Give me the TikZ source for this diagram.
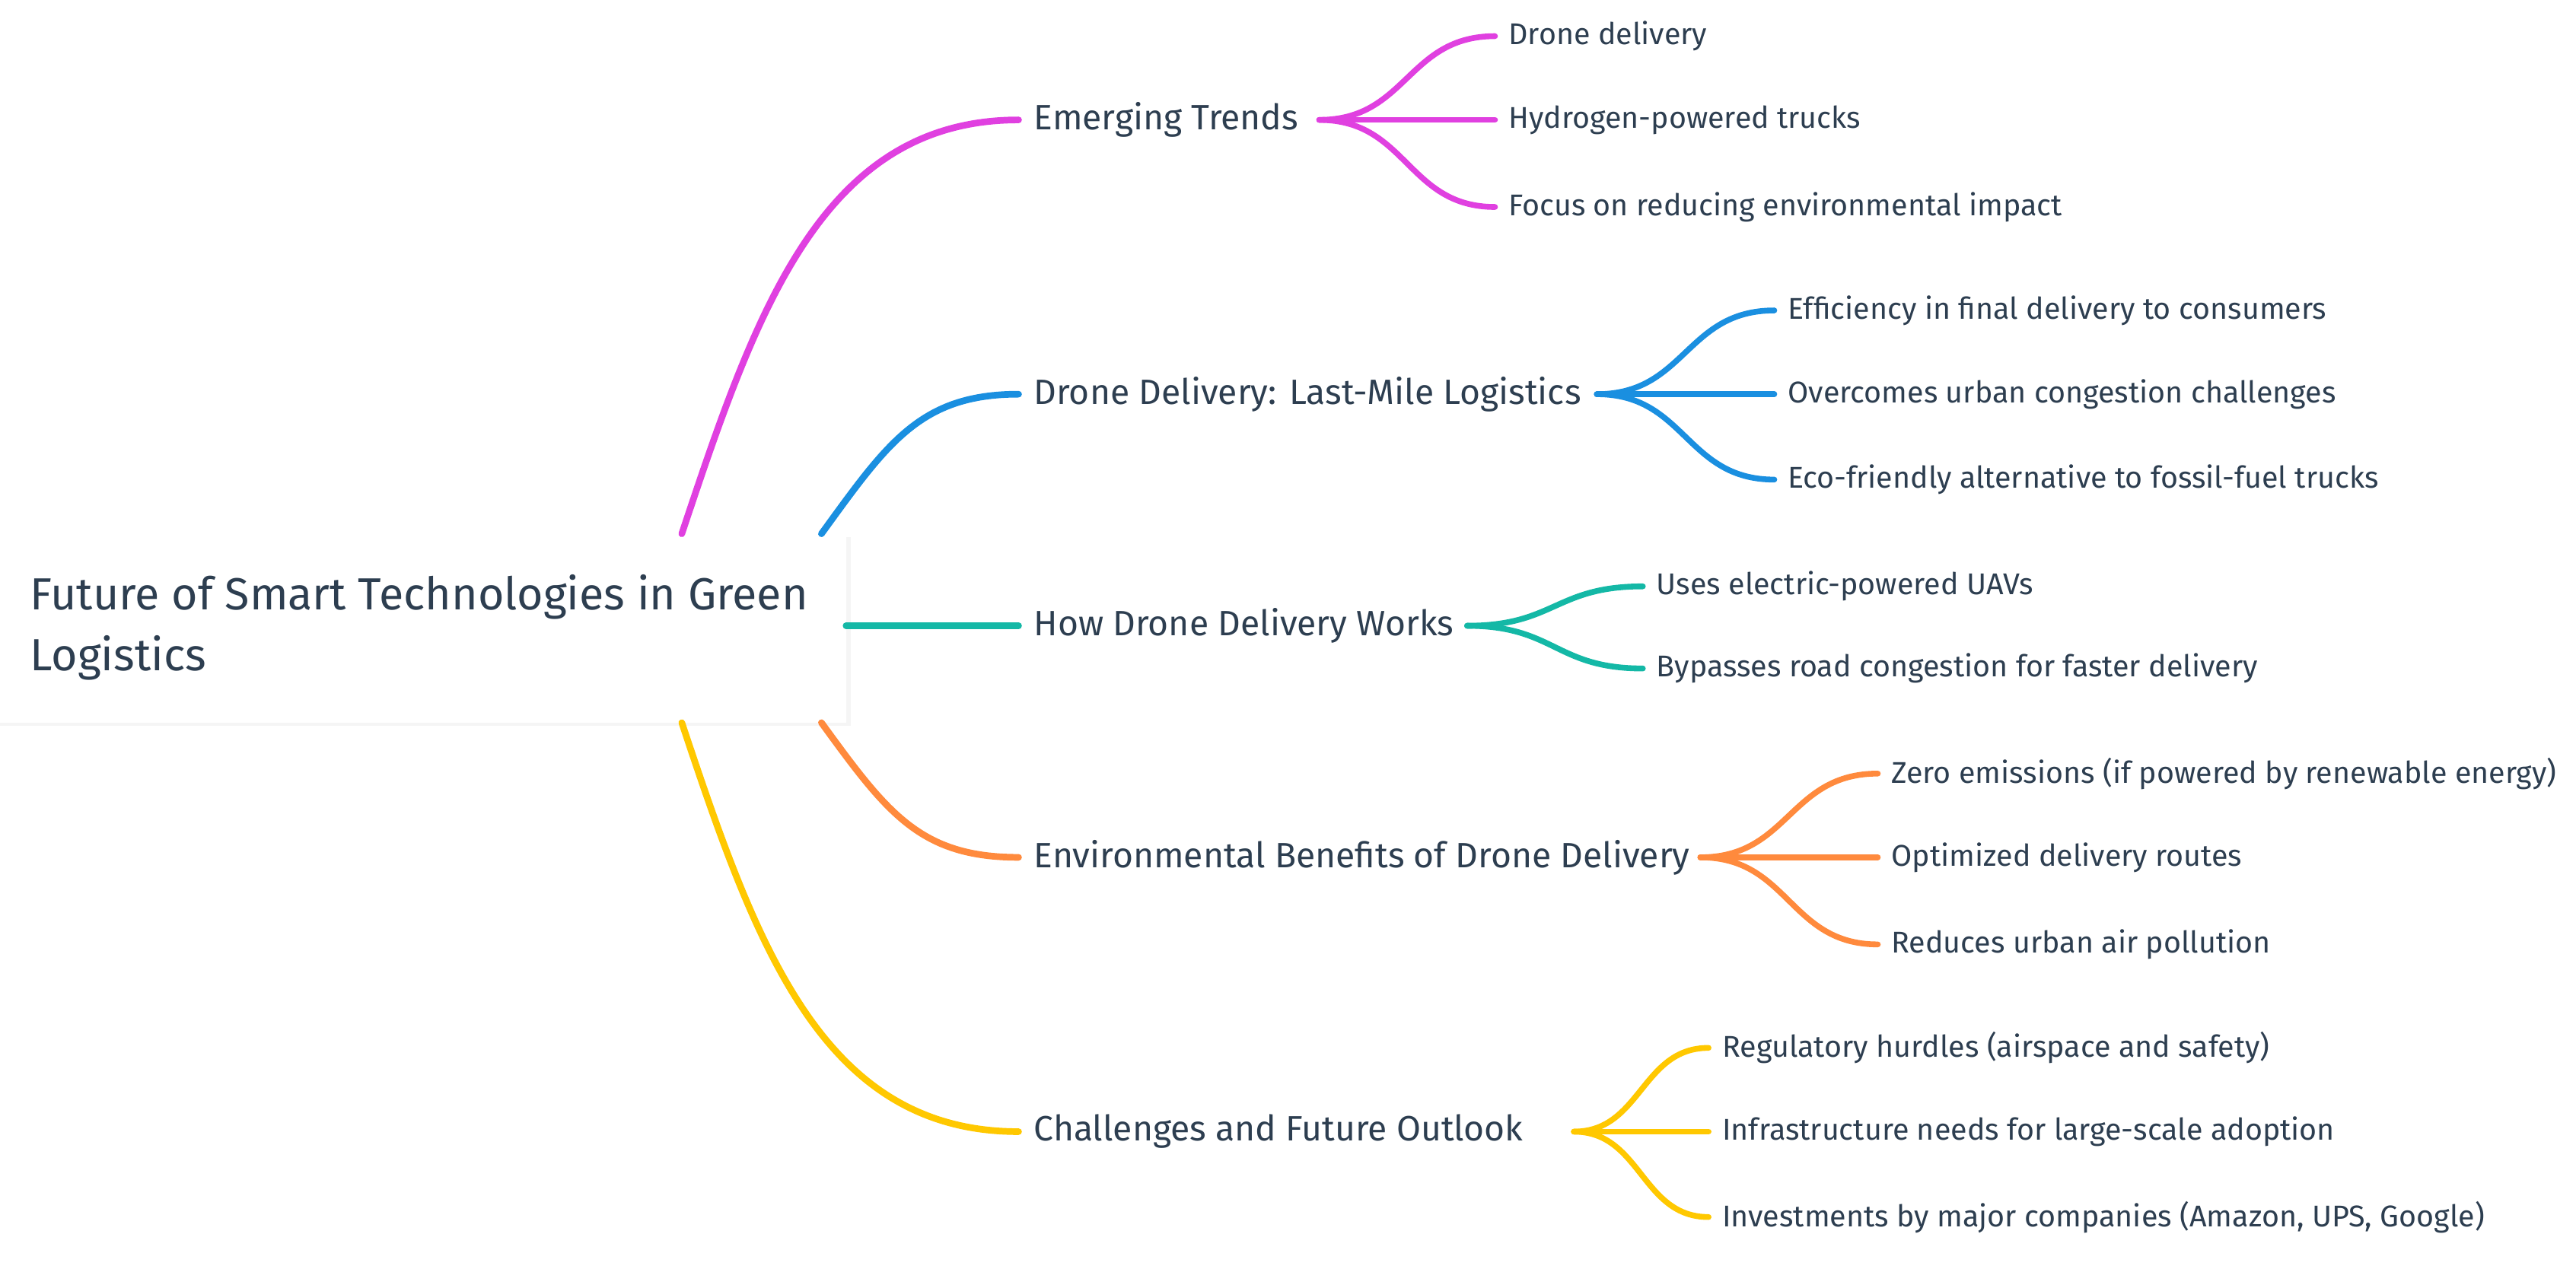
\documentclass[tikz,border=0pt]{standalone}
\usepackage{fontspec}
\setmainfont{Fira Sans}
\definecolor{txt}{HTML}{2D3E50}
\definecolor{cp}{HTML}{E040E0}
\definecolor{cb}{HTML}{1A8FE0}
\definecolor{ct}{HTML}{14B8A6}
\definecolor{co}{HTML}{FF8A3D}
\definecolor{cy}{HTML}{FFC800}
\begin{document}
\begin{tikzpicture}[x=0.02cm,y=-0.02cm,
  leaf/.style={anchor=west,inner sep=0pt,text=txt,font=\fontsize{10.4}{12}\selectfont},
  br/.style={anchor=west,inner sep=0pt,text=txt,font=\fontsize{12.2}{14}\selectfont},
  e/.style={line width=2.3pt,line cap=round},
  l/.style={line width=2pt,line cap=round}]
\useasboundingbox (0,0) rectangle (1568,772.6);
\fill[black!4] (0,327) rectangle (518,442);
\fill[white] (0,325) rectangle (515,440);
\node[anchor=west,inner sep=0pt,text=txt,align=left,font=\fontsize{15.6}{21}\selectfont] (root) at (18,382) {Future of Smart Technologies in Green\\Logistics};
\coordinate (rp) at (415,325); \coordinate (rb) at (500,325); \coordinate (rt) at (515,381);
\coordinate (ro) at (500,440); \coordinate (ry) at (415,440);
\node[br] (b1) at (629,73) {Emerging Trends};
\node[br] (b2) at (629,240) {Drone Delivery: Last-Mile Logistics};
\node[br] (b3) at (629,381) {How Drone Delivery Works};
\node[br] (b4) at (629,522) {Environmental Benefits of Drone Delivery};
\node[br] (b5) at (629,689) {Challenges and Future Outlook};
\draw[e,cp] (rp) .. controls (460,190) and (500,73) .. (620,73);
\draw[e,cb] (rb) .. controls (540,270) and (560,240) .. (620,240);
\draw[e,ct] (rt) -- (620,381);
\draw[e,co] (ro) .. controls (540,495) and (560,522) .. (620,522);
\draw[e,cy] (ry) .. controls (460,575) and (500,689) .. (620,689);
\newcommand\grp[5]{%
  \foreach \yy/\tt in {#5}{
    \draw[l,#1] (#2,#4) .. controls ({(#2+#3)/2},#4) and ({(#2+#3)/2},\yy) .. (#3,\yy);
    \node[leaf] at (#3+8,\yy) {\tt};}}
\grp{cp}{803}{910}{73}{22/Drone delivery,73/Hydrogen-powered trucks,126/Focus on reducing environmental impact}
\grp{cb}{972}{1080}{240}{189/Efficiency in final delivery to consumers,240/Overcomes urban congestion challenges,292/Eco-friendly alternative to fossil-fuel trucks}
\grp{ct}{893}{1000}{381}{357/Uses electric-powered UAVs,407/Bypasses road congestion for faster delivery}
\grp{co}{1035}{1143}{522}{471/Zero emissions (if powered by renewable energy),522/Optimized delivery routes,575/Reduces urban air pollution}
\grp{cy}{958}{1040}{689}{638/Regulatory hurdles (airspace and safety),689/Infrastructure needs for large-scale adoption,741/{Investments by major companies (Amazon, UPS, Google)}}
\end{tikzpicture}
\end{document}
